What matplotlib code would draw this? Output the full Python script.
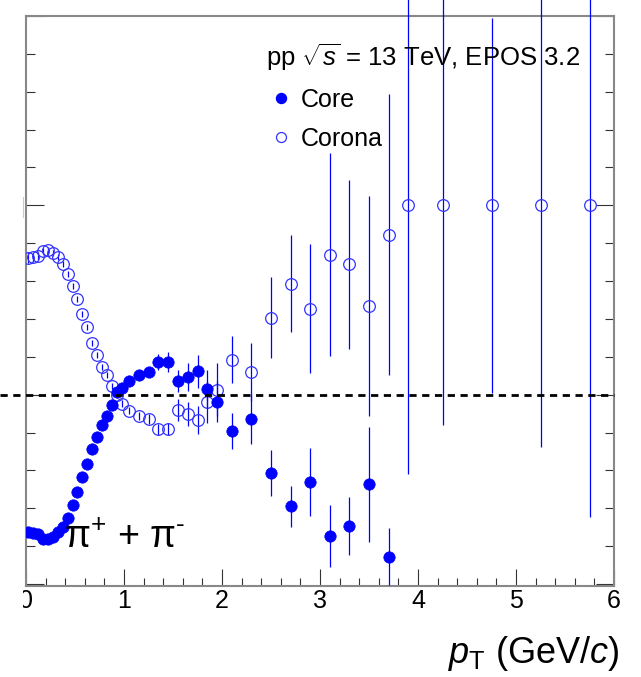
import numpy as np
import matplotlib
matplotlib.use("Agg")
import matplotlib.pyplot as plt
from matplotlib.ticker import MultipleLocator, FixedLocator, NullFormatter
from matplotlib.lines import Line2D
from matplotlib.patches import Rectangle

plt.rcParams['font.family'] = ['Liberation Sans', 'DejaVu Sans']
plt.rcParams['mathtext.fontset'] = 'custom'
plt.rcParams['mathtext.rm'] = 'Liberation Sans'
plt.rcParams['mathtext.it'] = 'Liberation Sans:italic'
plt.rcParams['mathtext.bf'] = 'Liberation Sans:bold'

# pT bin centres (GeV/c)
pt_low = [0.025, 0.075, 0.125, 0.175, 0.225, 0.275, 0.325, 0.375, 0.425, 0.475,
          0.525, 0.575, 0.625, 0.675, 0.725, 0.775, 0.825, 0.875, 0.925, 0.975]
pt_mid = [1.05, 1.15, 1.25, 1.35, 1.45, 1.55, 1.65, 1.75, 1.85, 1.95,
          2.1, 2.3, 2.5, 2.7, 2.9, 3.1, 3.3, 3.5, 3.7]
pt_high = [3.9, 4.25, 4.75, 5.25, 5.75]

# core
core_x = pt_low + pt_mid
core_y = [0.638, 0.636, 0.632, 0.618, 0.618, 0.625, 0.638, 0.652, 0.674, 0.709,
          0.743, 0.784, 0.817, 0.857, 0.889, 0.921, 0.943, 0.974, 1.007, 1.019,
          1.036, 1.053, 1.060, 1.087, 1.087, 1.036, 1.046, 1.062, 1.015, 0.982,
          0.905, 0.936, 0.793, 0.705, 0.769, 0.628, 0.653, 0.764, 0.572]
core_err = [0.004, 0.004, 0.004, 0.004, 0.004, 0.004, 0.004, 0.004, 0.004, 0.004,
            0.004, 0.004, 0.004, 0.005, 0.005, 0.005, 0.005, 0.006, 0.006, 0.006,
            0.008, 0.010, 0.013, 0.021, 0.027, 0.029, 0.037, 0.044, 0.049, 0.055,
            0.048, 0.065, 0.061, 0.054, 0.090, 0.082, 0.077, 0.152, 0.075]

# corona
corona_x = pt_low + pt_mid + pt_high
corona_y = [1.362, 1.363, 1.366, 1.379, 1.382, 1.375, 1.364, 1.344, 1.320, 1.287,
            1.253, 1.212, 1.178, 1.137, 1.106, 1.074, 1.053, 1.023, 1.000, 0.976,
            0.958, 0.944, 0.936, 0.909, 0.909, 0.960, 0.950, 0.934, 0.980, 1.013,
            1.093, 1.060, 1.203, 1.293, 1.227, 1.369, 1.344, 1.234, 1.423,
            1.500, 1.500, 1.500, 1.500, 1.500]
corona_err = [0.014, 0.012, 0.010, 0.008, 0.008, 0.008, 0.008, 0.008, 0.008, 0.008,
              0.008, 0.008, 0.008, 0.008, 0.008, 0.008, 0.008, 0.008, 0.008, 0.009,
              0.010, 0.011, 0.012, 0.014, 0.016, 0.029, 0.032, 0.037, 0.055, 0.070,
              0.061, 0.077, 0.107, 0.128, 0.170, 0.268, 0.223, 0.290, 0.370,
              0.710, 0.580, 0.495, 0.637, 0.822]

W, H = 641, 677
fig = plt.figure(figsize=(W / 100, H / 100), dpi=100)


def fx(px):
    return px / W


def fy(py):
    return 1 - py / H


ax = fig.add_axes([fx(26), fy(586), fx(614) - fx(26), fy(16) - fy(586)])
ax.set_xlim(0, 6)
ax.set_ylim(0.495, 2.0)

blue = '#0000ff'
eb = ax.errorbar(corona_x, corona_y, yerr=corona_err, fmt='o', ms=8.4,
                 mfc='none', mec='#3333ff', mew=0.9, ecolor=blue,
                 elinewidth=0.9, capsize=0, zorder=3)
for c in eb[2]:
    c.set_clip_on(False)
eb2 = ax.errorbar(core_x, core_y, yerr=core_err, fmt='o', ms=8.2,
                  mfc=blue, mec=blue, mew=0.5, ecolor=blue,
                  elinewidth=0.9, capsize=0, zorder=4)

# ticks
ax.xaxis.set_major_locator(MultipleLocator(1))
ax.xaxis.set_minor_locator(MultipleLocator(0.2))
ax.yaxis.set_major_locator(FixedLocator([0.5, 1.0, 1.5, 2.0]))
ax.yaxis.set_minor_locator(MultipleLocator(0.1))
ax.yaxis.set_major_formatter(NullFormatter())
ax.tick_params(axis='both', which='both', direction='in', color='#333333',
               width=0.8, top=False, right=True, left=True, bottom=True)
ax.tick_params(axis='x', which='major', length=12.2, labelsize=18, pad=2.5)
ax.tick_params(axis='x', which='minor', length=5.8)
ax.tick_params(axis='y', which='major', length=13)
ax.tick_params(axis='y', which='minor', length=6.5)
for s in ax.spines.values():
    s.set_color('#888888')
    s.set_linewidth(1.5)

# white strip over the cut-off left margin
fig.add_artist(Rectangle((0, 0), fx(23), 1, transform=fig.transFigure,
                         facecolor='white', edgecolor='none', zorder=5))
fig.add_artist(Line2D([fx(23.3), fx(23.3)], [fy(197), fy(217)],
                      transform=fig.transFigure, color='#a8d4ec', lw=0.8, zorder=6))

# reference line at 1
fig.add_artist(Line2D([-0.27, 6], [1, 1], transform=ax.transData, color='black',
                      lw=2.0, ls=(0, (2.6, 2.0)), zorder=6))

# legend
handles = [Line2D([], [], ls='none', marker='o', ms=7.2, mfc=blue, mec=blue),
           Line2D([], [], ls='none', marker='o', ms=7.2, mfc='none', mec='#3333ff', mew=0.9)]
leg = ax.legend(handles, ['Core', 'Corona'], title=r'pp $\sqrt{s}$ = 13 TeV, EPOS 3.2',
                loc='upper left', bbox_to_anchor=(fx(248), fy(24)),
                bbox_transform=fig.transFigure, frameon=False, fontsize=18,
                title_fontsize=18.5, alignment='left', handlelength=1.2,
                handletextpad=0.2, labelspacing=0.6, borderpad=0.2)

fig.text(fx(64), fy(548), r'$\mathrm{\pi}^{+}$ + $\mathrm{\pi}^{\text{-}}$', fontsize=27,
         ha='left', va='baseline')
fig.text(fx(620), fy(663), r'$p_{\mathrm{T}}$ (GeV/$c$)', fontsize=26,
         ha='right', va='baseline')

fig.savefig('out.png', dpi=100)
